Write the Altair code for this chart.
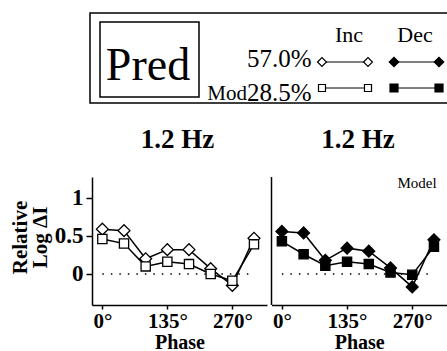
import altair as alt
import pandas as pd

# ---- data ----
phase = [0, 45, 90, 135, 180, 225, 270, 315]
inc_570 = [0.59, 0.57, 0.20, 0.32, 0.32, 0.07, -0.15, 0.47]
inc_285 = [0.46, 0.40, 0.10, 0.16, 0.13, 0.00, -0.09, 0.39]
dec_570 = [0.56, 0.54, 0.18, 0.34, 0.30, 0.08, -0.17, 0.45]
dec_285 = [0.43, 0.26, 0.11, 0.16, 0.13, 0.02, -0.01, 0.36]
series_names = ["57.0%", "28.5%"]
tick_phase = [0, 135, 270]
tick_value = [0, 0.5, 1]
zero_line = {"phase": [0], "phase2": [305], "value": [0]}

FONT = "Liberation Serif"
OX, OY = 92, 177
W, H = 355, 128


def panel_df(a, b):
    rows = []
    for p, v in zip(phase, a):
        rows.append({"phase": p, "value": v, "series": series_names[0]})
    for p, v in zip(phase, b):
        rows.append({"phase": p, "value": v, "series": series_names[1]})
    return pd.DataFrame(rows)


df_inc = panel_df(inc_570, inc_285)
df_dec = panel_df(dec_570, dec_285)
df_zero = pd.DataFrame(zero_line)

ys = alt.Scale(domain=[-0.408, 1.276], nice=False, zero=False)
y_axis = alt.Axis(
    values=tick_value, format="~g", grid=False,
    title=["Relative", "Log ΔI"], titleFont=FONT, titleFontSize=21,
    titleFontWeight="bold", titleColor="black", titleLineHeight=20,
    titlePadding=4, titleY=60,
    labelFont=FONT, labelFontSize=23, labelFontWeight="bold", labelColor="black",
    labelPadding=3, tickSize=6, tickColor="black", tickWidth=1.5,
    domainColor="black", domainWidth=1.5,
)


def x_axis():
    return alt.Axis(
        values=tick_phase, labelExpr="datum.value + '°'", grid=False, orient="bottom",
        title="Phase", titleFont=FONT, titleFontSize=20, titleFontWeight="bold",
        titleColor="black", titlePadding=1,
        labelFont=FONT, labelFontSize=21, labelFontWeight="bold", labelColor="black",
        labelPadding=1, tickSize=4, tickColor="black", tickWidth=1.5,
        domainColor="black", domainWidth=1.5,
    )


def panel(df, xrange, fill):
    xs = alt.Scale(domain=[-21.5, 342], range=xrange, nice=False, zero=False)
    X = alt.X("phase:Q", scale=xs, axis=x_axis())
    Y = alt.Y("value:Q", scale=ys, axis=y_axis)
    base = alt.Chart(df)
    zero = alt.Chart(df_zero).mark_rule(
        color="black", strokeDash=[1.5, 7], strokeWidth=1.5
    ).encode(x=X, x2="phase2:Q", y=Y)
    lines = base.mark_line(color="black", strokeWidth=1.5).encode(
        x=X, y=Y, detail="series:N"
    )
    dia = base.transform_filter(alt.datum.series == series_names[0]).mark_point(
        shape="diamond", filled=True, fill=fill, stroke="black", strokeWidth=1.3,
        size=140, opacity=1
    ).encode(x=X, y=Y)
    sq = base.transform_filter(alt.datum.series == series_names[1]).mark_point(
        shape="square", filled=True, fill=fill, stroke="black", strokeWidth=1.3,
        size=85, opacity=1
    ).encode(x=X, y=Y)
    return alt.layer(zero, lines, dia, sq)


left = panel(df_inc, [0, 175], "white")
right = panel(df_dec, [179.5, 355], "black")

dummy = pd.DataFrame({"k": [0]})


def txt(s, x, y, size, weight="normal", align="center"):
    return alt.Chart(dummy).mark_text(
        font=FONT, fontSize=size, fontWeight=weight, align=align,
        baseline="alphabetic", color="black"
    ).encode(x=alt.value(x - OX), y=alt.value(y - OY), text=alt.value(s))


def box(x1, x2, y1, y2, w=1.5):
    return alt.Chart(dummy).mark_rect(
        fillOpacity=0, stroke="black", strokeWidth=w
    ).encode(x=alt.value(x1 - OX), x2=alt.value(x2 - OX),
             y=alt.value(y1 - OY), y2=alt.value(y2 - OY))


def seg(x1, x2, y):
    return alt.Chart(dummy).mark_rule(color="black", strokeWidth=1).encode(
        x=alt.value(x1 - OX), x2=alt.value(x2 - OX), y=alt.value(y - OY)
    )


def sym(x, y, shape, fill, size):
    return alt.Chart(dummy).mark_point(
        shape=shape, filled=True, fill=fill, stroke="black", strokeWidth=1.2,
        size=size, opacity=1
    ).encode(x=alt.value(x - OX), y=alt.value(y - OY))


right_yline = alt.Chart(dummy).mark_rule(color="black", strokeWidth=1.5).encode(
    x=alt.value(179.5), y=alt.value(0), y2=alt.value(H)
)

legend = [
    box(90, 470, 13, 103),
    box(100, 199, 22, 97),
    txt("Pred", 148, 80, 46),
    txt("Mod", 247, 100, 21, align="right"),
    txt("57.0%", 247, 67, 25, align="left"),
    txt("28.5%", 247, 101, 25, align="left"),
    txt("Inc", 349, 42, 22),
    txt("Dec", 415, 42, 22),
    seg(322, 368, 62), seg(394, 439, 62),
    seg(322, 368, 88), seg(394, 439, 88),
    sym(322, 62, "diamond", "white", 80), sym(368, 62, "diamond", "white", 80),
    sym(394, 62, "diamond", "black", 90), sym(439, 62, "diamond", "black", 90),
    sym(322, 88, "square", "white", 49), sym(368, 88, "square", "white", 49),
    sym(394, 88, "square", "black", 64), sym(439, 88, "square", "black", 64),
]

titles = [
    txt("1.2 Hz", 177.5, 148, 27, weight="bold"),
    txt("1.2 Hz", 358, 148, 27, weight="bold"),
    txt("Model", 417, 188, 15),
]

chart = alt.layer(left, right, right_yline, *legend, *titles).resolve_scale(
    x="independent"
).properties(
    width=W, height=H,
    autosize=alt.AutoSizeParams(type="none"),
    padding={"left": OX, "top": OY, "right": 447 - OX - W, "bottom": 351 - OY - H},
).configure_view(strokeWidth=0)

chart.save("out.html", embed_options={"renderer": "svg", "actions": False})
